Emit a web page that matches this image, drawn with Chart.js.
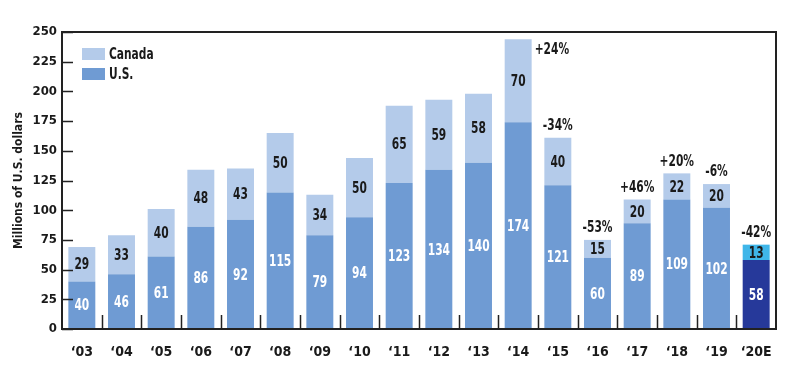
<!DOCTYPE html>
<html>
<head>
<meta charset="utf-8">
<script src="https://cdn.jsdelivr.net/npm/chart.js@4.4.1/dist/chart.umd.min.js"></script>
<style>
  html, body { margin: 0; padding: 0; background: #fff; }
  #wrap { width: 800px; height: 369px; }
</style>
</head>
<body>
<div id="wrap"><canvas id="fundingChart" width="800" height="369"></canvas></div>
<script>
// values (millions of U.S. dollars)
const years = ['‘03', '‘04', '‘05', '‘06', '‘07', '‘08', '‘09', '‘10', '‘11', '‘12', '‘13', '‘14', '‘15', '‘16', '‘17', '‘18', '‘19', '‘20E'];
const usValues = [40, 46, 61, 86, 92, 115, 79, 94, 123, 134, 140, 174, 121, 60, 89, 109, 102, 58];
const canadaValues = [29, 33, 40, 48, 43, 50, 34, 50, 65, 59, 58, 70, 40, 15, 20, 22, 20, 13];
const changeLabels = [null, null, null, null, null, null, null, null, null, null, null, '+24%', '-34%', '-53%', '+46%', '+20%', '-6%', '-42%'];
const yTicks = [0, 25, 50, 75, 100, 125, 150, 175, 200, 225, 250];

const FONT = "'DejaVu Sans Condensed', 'Liberation Sans', sans-serif";
const usColor = '#6f9bd3', canadaColor = '#b4cbea';
const usEstColor = '#26399a', canadaEstColor = '#3fb6e9';
const lastIdx = years.length - 1;

// bar colours: estimate year gets darker / cyan shades
const usColors = usValues.map((v, i) => i === lastIdx ? usEstColor : usColor);
const canadaColors = canadaValues.map((v, i) => i === lastIdx ? canadaEstColor : canadaColor);

// squeeze text horizontally so it looks like the narrow face in the original
function narrowText(ctx, text, x, y, align) {
    const sx = 0.74;
    ctx.save();
    ctx.translate(x, y);
    ctx.scale(sx, 1);
    ctx.textAlign = align;
    ctx.fillText(text, 0, 0);
    ctx.restore();
}

const decorations = {
    id: 'decorations',
    afterDatasetsDraw(chart) {
        const ctx = chart.ctx;
        const area = chart.chartArea;
        const x = chart.scales.x, y = chart.scales.y;
        ctx.save();

        // values inside segments
        ctx.font = 'bold 16px ' + FONT;
        ctx.textBaseline = 'middle';
        chart.data.datasets.forEach((ds, di) => {
            const meta = chart.getDatasetMeta(di);
            meta.data.forEach((bar, i) => {
                const midY = (bar.y + bar.base) / 2;
                ctx.fillStyle = di === 0 ? '#ffffff' : '#1a1a1a';
                narrowText(ctx, String(ds.data[i]), bar.x, midY + 1, 'center');
            });
        });

        // percent change labels
        const topMeta = chart.getDatasetMeta(1);
        ctx.fillStyle = '#1a1a1a';
        changeLabels.forEach((lbl, i) => {
            if (!lbl) return;
            const bar = topMeta.data[i];
            if (bar.y - 20 < area.top) {
                narrowText(ctx, lbl, bar.x + bar.width / 2 + 3, bar.y + 11, 'left');
            } else {
                narrowText(ctx, lbl, bar.x, bar.y - 12, 'center');
            }
        });

        // inner tick marks
        ctx.strokeStyle = '#222';
        ctx.lineWidth = 1.5;
        ctx.beginPath();
        yTicks.forEach(v => {
            const py = Math.round(y.getPixelForValue(v)) + 0.5;
            ctx.moveTo(area.left, py);
            ctx.lineTo(area.left + 11, py);
        });
        for (let i = 0; i < years.length - 1; i++) {
            const px = Math.round((x.getPixelForValue(i) + x.getPixelForValue(i + 1)) / 2) + 0.5;
            ctx.moveTo(px, area.bottom);
            ctx.lineTo(px, area.bottom - 14);
        }
        ctx.stroke();

        // frame around plot
        ctx.lineWidth = 2;
        ctx.strokeRect(area.left, area.top, area.right - area.left, area.bottom - area.top);

        // legend
        const items = [['Canada', canadaColor], ['U.S.', usColor]];
        items.forEach((it, k) => {
            const ly = area.top + 22 + k * 20;
            ctx.fillStyle = it[1];
            ctx.fillRect(area.left + 20, ly - 6, 23, 12);
            ctx.fillStyle = '#1a1a1a';
            narrowText(ctx, it[0], area.left + 47, ly + 1, 'left');
        });
        ctx.restore();
    }
};

const ctx = document.getElementById('fundingChart').getContext('2d');
const fundingChart = new Chart(ctx, {
    type: 'bar',
    data: {
        labels: years,
        datasets: [
            { label: 'U.S.', data: usValues, backgroundColor: usColors, borderWidth: 0 },
            { label: 'Canada', data: canadaValues, backgroundColor: canadaColors, borderWidth: 0 }
        ]
    },
    options: {
        responsive: false,
        animation: false,
        layout: { padding: { top: 32, right: 24, left: 0, bottom: 0 } },
        datasets: { bar: { categoryPercentage: 1, barPercentage: 0.68 } },
        scales: {
            x: {
                stacked: true,
                grid: { display: false },
                border: { display: false },
                ticks: {
                    color: '#1a1a1a',
                    font: { family: FONT, size: 14, weight: 'bold' },
                    padding: 7,
                    maxRotation: 0,
                    minRotation: 0,
                    autoSkip: false
                },
                afterFit(scale) { scale.height = 40; }
            },
            y: {
                stacked: true,
                min: 0,
                max: 250,
                afterBuildTicks(scale) { scale.ticks = yTicks.map(v => ({ value: v })); },
                grid: { display: false, drawTicks: false },
                border: { display: false },
                ticks: { color: '#1a1a1a', font: { family: FONT, size: 13, weight: 'bold' }, padding: 5 },
                title: {
                    display: true,
                    text: 'Millions of U.S. dollars',
                    color: '#1a1a1a',
                    font: { family: FONT, size: 12, weight: 'bold' },
                    padding: { top: 12, bottom: 0 }
                },
                afterFit(scale) { scale.width = 62; }
            }
        },
        plugins: {
            legend: { display: false },
            tooltip: { enabled: false }
        }
    },
    plugins: [decorations]
});
</script>
</body>
</html>
